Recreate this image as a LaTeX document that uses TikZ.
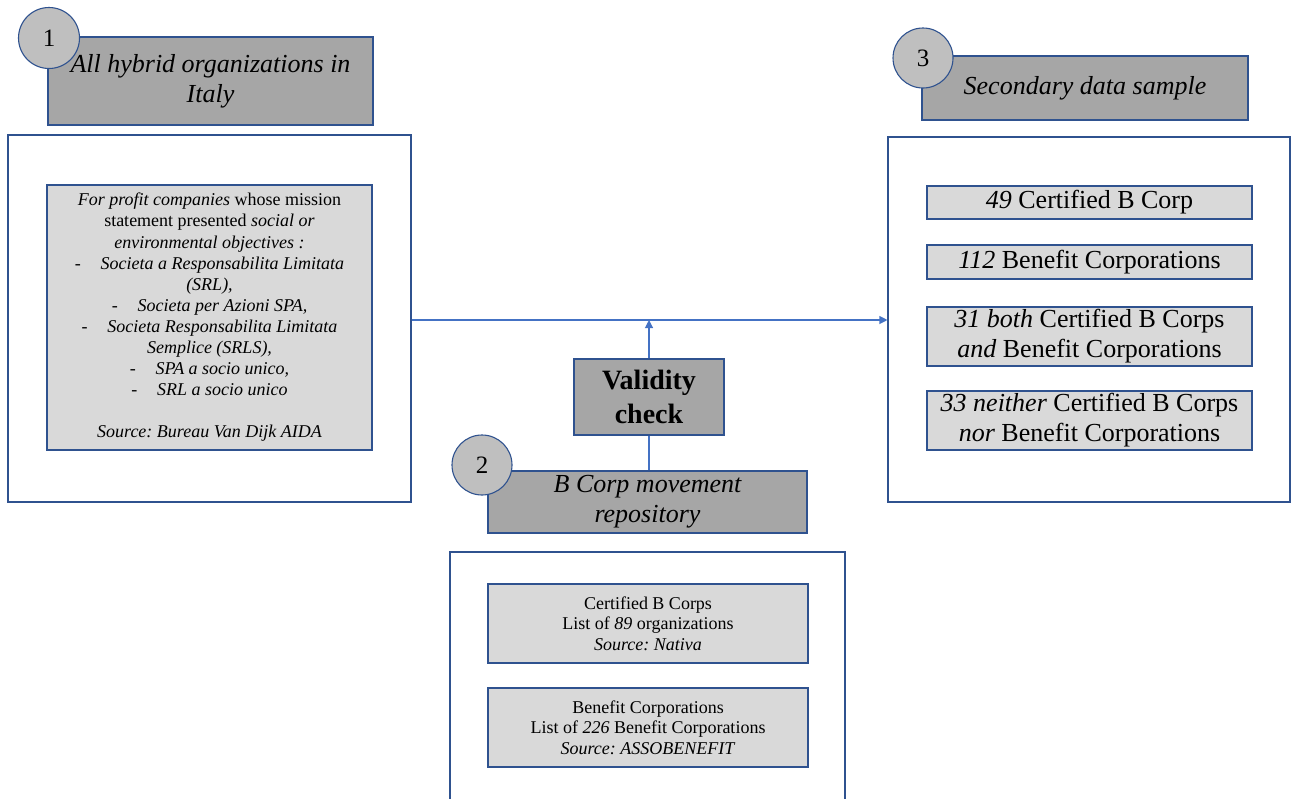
\documentclass[tikz,border=0pt]{standalone}
\usepackage{fontspec}
\setmainfont{Liberation Serif}
\frenchspacing
\usetikzlibrary{arrows.meta}
\definecolor{frameblue}{HTML}{2F528F}
\definecolor{lineblue}{HTML}{4472C4}
\definecolor{headgray}{HTML}{A6A6A6}
\definecolor{numgray}{HTML}{BFBFBF}
\definecolor{itemgray}{HTML}{D9D9D9}
\tikzset{panel/.style={draw=frameblue, line width=1.1pt, inner sep=0pt}}
\tikzset{head/.style={panel, fill=headgray, align=center, font=\fontsize{26}{30}\selectfont\itshape}}
\tikzset{num/.style={panel, circle, fill=numgray, minimum size=#1, font=\fontsize{25}{30}\selectfont}}
\tikzset{num/.default=61pt}
\tikzset{item/.style={panel, fill=itemgray, align=center}}
\tikzset{link/.style={draw=lineblue, line width=1.1pt}}

\begin{document}
\begin{tikzpicture}[x=1pt, y=-1pt]
            \clip (0, 0) rectangle (1292, 798);
            % 1: hybrid organizations
            \node[panel, minimum width=403, minimum height=367] (left) at (209.5, 318.5) {};
            \node[head, minimum width=325, minimum height=88] (lefthead) at (210.5, 81) {All hybrid organizations in\\Italy};
            \node[num] (one) at (49, 38) {1};
            \node[item, minimum width=325, minimum height=265, font=\fontsize{18}{21.1}\selectfont] (leftlist) at (209.5, 317.5) {\textit{For profit companies} whose mission\\statement presented \textit{social or}\\\textit{environmental objectives :}\\-\hspace{1.1em}\textit{Societa a Responsabilita Limitata}\\\textit{(SRL),}\\-\hspace{1.1em}\textit{Societa per Azioni SPA,}\\-\hspace{1.1em}\textit{Societa Responsabilita Limitata}\\\textit{Semplice (SRLS),}\\-\hspace{1.1em}\textit{SPA a socio unico,}\\-\hspace{1.1em}\textit{SRL a socio unico}\\[21.1pt]\textit{Source: Bureau Van Dijk AIDA}};
            % 3: secondary data sample
            \node[panel, minimum width=402, minimum height=365] (right) at (1089, 319.5) {};
            \node[head, minimum width=326, minimum height=64] (righthead) at (1085, 88) {Secondary data sample};
            \node[num, minimum size=60pt] (three) at (923, 58) {3};
            \begin{scope}[every node/.append style={font=\fontsize{26}{30}\selectfont, minimum width=325}]
                \node[item, minimum height=33] (cert) at (1089.5, 202.5) {\textit{49} Certified B Corp};
                \node[item, minimum height=34] (benefit) at (1089.5, 262) {\textit{112} Benefit Corporations};
                \node[item, minimum height=59] (both) at (1089.5, 336.5) {\textit{31 both} Certified B Corps\\\textit{and} Benefit Corporations};
                \node[item, minimum height=59] (neither) at (1089.5, 420.5) {\textit{33 neither} Certified B Corps\\\textit{nor} Benefit Corporations};
            \end{scope}
            % 2: B Corp movement repository
            \node[panel, fill=headgray, minimum width=150, minimum height=76, align=center, font=\fontsize{28}{34}\selectfont\bfseries] (check) at (649, 397) {Validity\\check};
            \node[panel, minimum width=395, minimum height=360] (bottom) at (647.5, 732) {};
            \node[head, minimum width=319, minimum height=62] (repohead) at (647.5, 502) {B Corp movement\\repository};
            \node[num, minimum size=60pt] (two) at (482, 465) {2};
            \begin{scope}[every node/.append style={font=\fontsize{18}{20.5}\selectfont, minimum width=320, minimum height=79}]
                \node[item] (nativa) at (648, 623.5) {Certified B Corps\\List of \textit{89} organizations\\\textit{Source: Nativa}};
                \node[item] (asso) at (648, 727.5) {Benefit Corporations\\List of \textit{226} Benefit Corporations\\\textit{Source: ASSOBENEFIT}};
            \end{scope}
            % connectors
            \draw[link, -{Triangle[width=8pt, length=8pt]}] (left.east |- 0, 320) coordinate (A) -- (A -| right.west);
            \draw[link, -{Triangle[width=8pt, length=8pt]}] (check.north) -- (check.north |- A);
            \draw[link] (repohead.north -| check.south) -- (check.south);
        \end{tikzpicture}
\end{document}
